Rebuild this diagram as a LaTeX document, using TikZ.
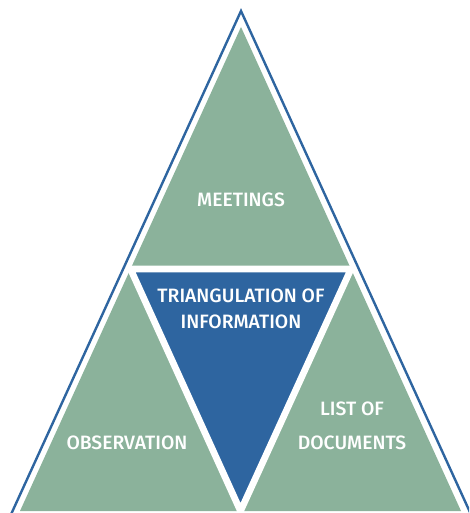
\documentclass[tikz,border=0pt]{standalone}
\usepackage{fontspec}
\setmainfont{Fira Sans Medium}
\usetikzlibrary{calc}
\definecolor{verde}{HTML}{8BB29B}
\definecolor{azul}{HTML}{2E65A0}

\begin{document}
\begin{tikzpicture}[
    x=0.75pt, y=-0.75pt,
    etiqueta/.style={text=white, font=\fontsize{14.5}{19.5}\selectfont, align=center, inner sep=0pt},
    hueco/.style={draw=white, line width=5pt},
    borde/.style={draw=azul, line width=1.8pt, line join=miter}
]
\useasboundingbox (0,0) rectangle (469,513);
\clip (0,0) rectangle (469,513);

% Vértices del triángulo
\coordinate (apice) at (241,27);
\coordinate (izq) at (20,511);
\coordinate (der) at (461,511);
\coordinate (mizq) at ($(apice)!0.5!(izq)$);
\coordinate (mder) at ($(apice)!0.5!(der)$);
\coordinate (mbase) at ($(izq)!0.5!(der)$);

% Relleno
\fill[verde] (apice) -- (izq) -- (der) -- cycle;
\fill[azul] (mizq) -- (mder) -- (mbase) -- cycle;
\draw[hueco] (mizq) -- (mder) -- (mbase) -- cycle;

% Contorno exterior
\draw[borde] (8,521) -- (241,11) -- (474,521);

% Textos
\node[etiqueta] (meet) at (241,200) {MEETINGS};
\node[etiqueta] (tri) at (241,309) {TRIANGULATION OF\\INFORMATION};
\node[etiqueta] (obs) at (127,443) {OBSERVATION};
\node[etiqueta] (docs) at (352,426) {LIST OF\\[6pt]DOCUMENTS};

\end{tikzpicture}
\end{document}
